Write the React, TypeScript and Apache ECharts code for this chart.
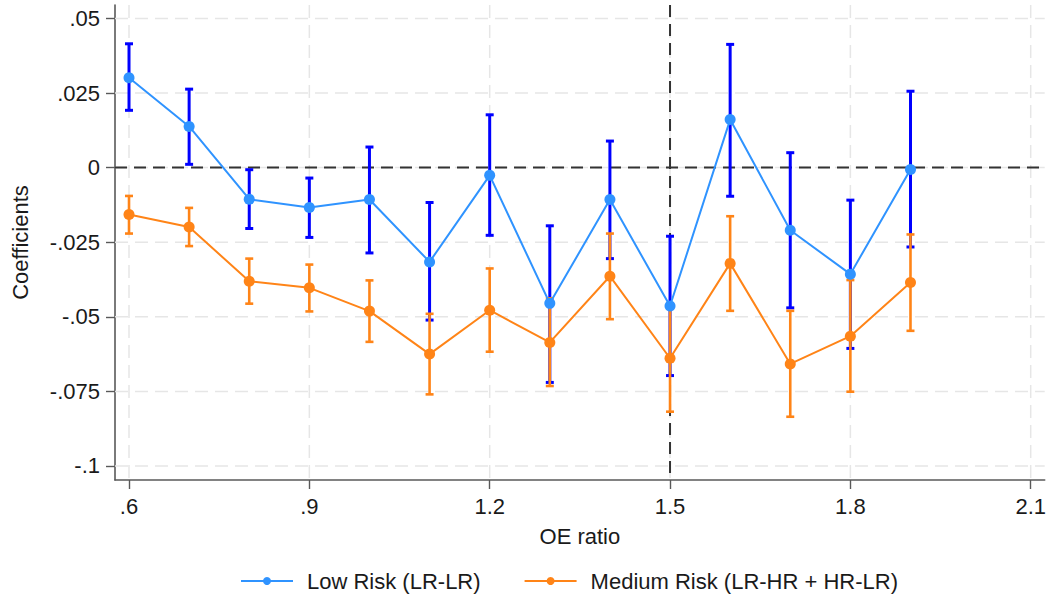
import React, { useEffect, useRef } from "react";
import * as echarts from "echarts";

// OE ratio bins on the horizontal axis
const oeRatio = [0.6, 0.7, 0.8, 0.9, 1.0, 1.1, 1.2, 1.3, 1.4, 1.5, 1.6, 1.7, 1.8, 1.9];

// Low Risk (LR-LR): point estimates and 95% CI bounds
const lowRiskCoef = [0.0301, 0.0138, -0.0106, -0.0134, -0.0107, -0.0316, -0.0026, -0.0455, -0.0107, -0.0464, 0.0161, -0.021, -0.0357, -0.0006];
const lowRiskUpper = [0.0415, 0.0263, -0.0007, -0.0035, 0.0069, -0.0117, 0.0177, -0.0195, 0.0089, -0.023, 0.0413, 0.005, -0.0109, 0.0256];
const lowRiskLower = [0.0192, 0.0011, -0.0204, -0.0234, -0.0286, -0.0511, -0.0227, -0.072, -0.0305, -0.0697, -0.0096, -0.047, -0.0606, -0.0266];

// Medium Risk (LR-HR + HR-LR): point estimates and 95% CI bounds
const medRiskCoef = [-0.0157, -0.0199, -0.0381, -0.0403, -0.0481, -0.0625, -0.0478, -0.0586, -0.0364, -0.0639, -0.0321, -0.0658, -0.0565, -0.0385];
const medRiskUpper = [-0.0095, -0.0135, -0.0305, -0.0325, -0.0378, -0.049, -0.0338, -0.0438, -0.0221, -0.0464, -0.0163, -0.048, -0.0377, -0.0224];
const medRiskLower = [-0.0221, -0.0263, -0.0456, -0.0482, -0.0584, -0.076, -0.0617, -0.0732, -0.0508, -0.0818, -0.048, -0.0835, -0.0751, -0.0547];

// Axis ticks and their labels
const xTicks = [0.6, 0.9, 1.2, 1.5, 1.8, 2.1];
const xTickLabels = [".6", ".9", "1.2", "1.5", "1.8", "2.1"];
const yTicks = [-0.1, -0.075, -0.05, -0.025, 0, 0.025, 0.05];
const yTickLabels = ["-.1", "-.075", "-.05", "-.025", "0", ".025", ".05"];

// Reference lines
const xRefLines = [1.5];
const yRefLines = [0];

const seriesNames = ["Low Risk (LR-LR)", "Medium Risk (LR-HR + HR-LR)"];

const FONT = "'Liberation Sans', Arial, Helvetica, sans-serif";
const LOW_LINE = "#2f93ff";
const LOW_CI = "#0000ff";
const MED_LINE = "#ff8417";
const MED_CI = "#ff8417";
const GRID_COLOR = "#e6e6e6";
const REF_COLOR = "#333333";

function labelFor(ticks: number[], labels: string[], v: number): string {
  let best = 0;
  for (let i = 1; i < ticks.length; i++) {
    if (Math.abs(ticks[i] - v) < Math.abs(ticks[best] - v)) best = i;
  }
  return labels[best];
}

// Range cap: vertical stem with short horizontal caps at both ends
function capRenderer(color: string, width: number) {
  return (params: any, api: any) => {
    const x = api.value(0);
    const lo = api.coord([x, api.value(1)]);
    const hi = api.coord([x, api.value(2)]);
    const half = 4;
    const style = { stroke: color, lineWidth: width, fill: "none" };
    return {
      type: "group",
      children: [
        { type: "line", shape: { x1: lo[0], y1: lo[1], x2: hi[0], y2: hi[1] }, style },
        { type: "line", shape: { x1: lo[0] - half, y1: lo[1], x2: lo[0] + half, y2: lo[1] }, style },
        { type: "line", shape: { x1: hi[0] - half, y1: hi[1], x2: hi[0] + half, y2: hi[1] }, style },
      ],
    };
  };
}

// Full-height vertical line across the plot region at the item's x value
function vLineRenderer(color: string, width: number, dash: number[]) {
  return (params: any, api: any) => {
    const cs = params.coordSys;
    const p = api.coord([api.value(0), api.value(1)]);
    return {
      type: "line",
      shape: { x1: p[0], y1: cs.y, x2: p[0], y2: cs.y + cs.height },
      style: { stroke: color, lineWidth: width, lineDash: dash, fill: "none" },
    };
  };
}

// Full-width horizontal line across the plot region at the item's y value
function hLineRenderer(color: string, width: number, dash: number[]) {
  return (params: any, api: any) => {
    const cs = params.coordSys;
    const p = api.coord([api.value(0), api.value(1)]);
    return {
      type: "line",
      shape: { x1: cs.x, y1: p[1], x2: cs.x + cs.width, y2: p[1] },
      style: { stroke: color, lineWidth: width, lineDash: dash, fill: "none" },
    };
  };
}

export default function App() {
  const ref = useRef<HTMLDivElement>(null);

  useEffect(() => {
    if (!ref.current) return;
    const chart = echarts.init(ref.current, undefined, { renderer: "svg" });

    const axisColor = "#595959";
    const lowCI = oeRatio.map((x, i) => [x, lowRiskLower[i], lowRiskUpper[i]]);
    const medCI = oeRatio.map((x, i) => [x, medRiskLower[i], medRiskUpper[i]]);
    const lowPts = oeRatio.map((x, i) => [x, lowRiskCoef[i]]);
    const medPts = oeRatio.map((x, i) => [x, medRiskCoef[i]]);

    const guide = (name: string, data: number[][], renderItem: any) => ({
      name,
      type: "custom",
      data,
      encode: { x: 0, y: 1 },
      renderItem,
      silent: true,
      clip: false,
    });

    chart.setOption({
      animation: false,
      backgroundColor: "#ffffff",
      textStyle: { fontFamily: FONT },
      grid: { left: 115, right: 4, top: 5, bottom: 121, containLabel: false },
      xAxis: {
        type: "value",
        min: 0.5767,
        max: 2.1233,
        name: "OE ratio",
        nameLocation: "middle",
        nameGap: 45,
        nameTextStyle: { fontSize: 22, color: "#1a1a1a", fontFamily: FONT },
        axisLine: { show: true, onZero: false, lineStyle: { color: axisColor, width: 1.6 } },
        axisTick: { show: true, length: 9, customValues: xTicks, lineStyle: { color: axisColor, width: 1.4 } },
        axisLabel: {
          customValues: xTicks,
          margin: 15,
          fontSize: 22,
          color: "#1a1a1a",
          fontFamily: FONT,
          formatter: (v: number) => labelFor(xTicks, xTickLabels, v),
        },
        splitLine: { show: false },
      },
      yAxis: {
        type: "value",
        min: -0.1047,
        max: 0.0545,
        name: "Coefficients",
        nameLocation: "middle",
        nameGap: 84,
        nameTextStyle: { fontSize: 22, color: "#1a1a1a", fontFamily: FONT },
        axisLine: { show: true, onZero: false, lineStyle: { color: axisColor, width: 1.6 } },
        axisTick: { show: true, length: 9, customValues: yTicks, lineStyle: { color: axisColor, width: 1.4 } },
        axisLabel: {
          customValues: yTicks,
          margin: 15,
          fontSize: 22,
          color: "#1a1a1a",
          fontFamily: FONT,
          formatter: (v: number) => labelFor(yTicks, yTickLabels, v),
        },
        splitLine: { show: false },
      },
      legend: {
        data: seriesNames,
        left: 240,
        top: 570,
        padding: 0,
        itemWidth: 52,
        itemHeight: 10,
        itemGap: 43,
        textStyle: { fontSize: 22, color: "#1a1a1a", fontFamily: FONT, padding: [0, 0, 0, 9] },
      },
      series: [
        guide("x grid", xTicks.map((v) => [v, yTicks[0]]), vLineRenderer(GRID_COLOR, 1.5, [13, 7])),
        guide("y grid", yTicks.map((v) => [xTicks[0], v]), hLineRenderer(GRID_COLOR, 1.5, [13, 7])),
        guide("x reference", xRefLines.map((v) => [v, yTicks[0]]), vLineRenderer(REF_COLOR, 2, [12, 7])),
        guide("y reference", yRefLines.map((v) => [xTicks[0], v]), hLineRenderer(REF_COLOR, 2, [12, 7])),
        {
          name: "Low Risk CI",
          type: "custom",
          data: lowCI,
          encode: { x: 0, y: [1, 2] },
          renderItem: capRenderer(LOW_CI, 3),
          silent: true,
        },
        {
          name: seriesNames[0],
          type: "line",
          data: lowPts,
          symbol: "circle",
          symbolSize: 11,
          lineStyle: { color: LOW_LINE, width: 2 },
          itemStyle: { color: LOW_LINE },
        },
        {
          name: "Medium Risk CI",
          type: "custom",
          data: medCI,
          encode: { x: 0, y: [1, 2] },
          renderItem: capRenderer(MED_CI, 2.6),
          silent: true,
        },
        {
          name: seriesNames[1],
          type: "line",
          data: medPts,
          symbol: "circle",
          symbolSize: 11,
          lineStyle: { color: MED_LINE, width: 2 },
          itemStyle: { color: MED_LINE },
        },
      ],
    });

    return () => chart.dispose();
  }, []);

  return (
    <div
      ref={ref}
      style={{ position: "absolute", left: 0, top: 0, width: 1049, height: 601, background: "#fff" }}
    />
  );
}
